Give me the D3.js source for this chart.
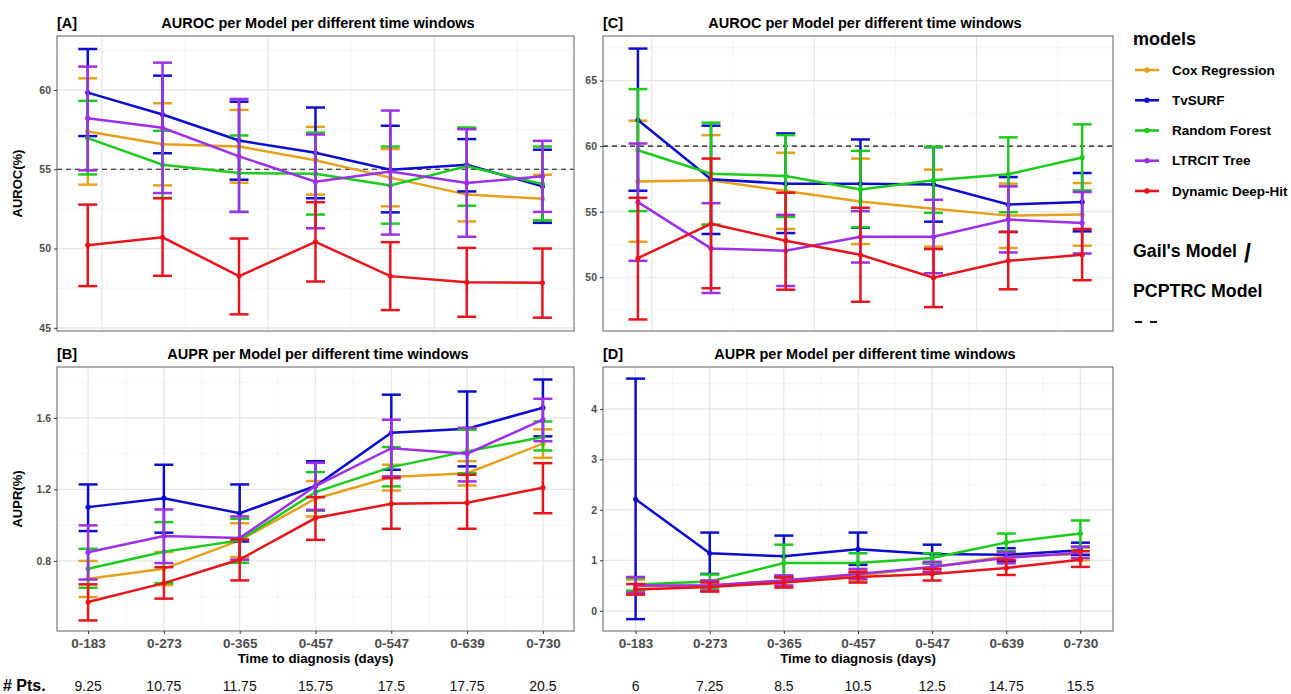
<!DOCTYPE html>
<html>
<head>
<meta charset="utf-8">
<script src="https://cdn.jsdelivr.net/npm/d3@7"></script>
<style>
  body { margin: 0; background: #fff; }
  svg { font-family: "Liberation Sans", Arial, sans-serif; }
</style>
</head>
<body>
<svg id="chart" width="1291" height="694"></svg>
<script>
// ---- data ----
const windows = ["0-183", "0-273", "0-365", "0-457", "0-547", "0-639", "0-730"];
const days = [183, 273, 365, 457, 547, 639, 730];
const models = ["Cox Regression", "TvSURF", "Random Forest", "LTRCIT Tree", "Dynamic Deep-Hit"];
const colors = ["#e5a11b", "#0d0dcf", "#1ccb1c", "#9d2fe8", "#e8141c"];
const ptsLeft = ["9.25", "10.75", "11.75", "15.75", "17.5", "17.75", "20.5"];
const ptsRight = ["6", "7.25", "8.5", "10.5", "12.5", "14.75", "15.5"];

// [A] AUROC, rows follow models
const aurocA = [
  [57.38, 56.58, 56.43, 55.57, 54.47, 53.40, 53.14],
  [59.83, 58.45, 56.81, 56.04, 54.97, 55.28, 53.92],
  [56.96, 55.28, 54.76, 54.72, 53.98, 55.18, 54.07],
  [58.22, 57.61, 55.81, 54.21, 54.86, 54.13, 54.55],
  [50.21, 50.71, 48.26, 50.42, 48.26, 47.88, 47.84]
];
const aurocA_lo = [
  [54.03, 53.98, 54.15, 53.40, 52.66, 51.71, 51.65],
  [57.09, 56.01, 54.34, 53.17, 52.28, 53.60, 51.62],
  [54.67, 53.19, 52.31, 52.14, 51.57, 52.70, 51.78],
  [54.93, 53.50, 52.31, 51.28, 50.88, 50.74, 52.31],
  [47.63, 48.28, 45.85, 47.92, 46.12, 45.70, 45.64]
];
const aurocA_hi = [
  [60.73, 59.16, 58.74, 57.67, 56.27, 57.58, 54.65],
  [62.58, 60.90, 59.26, 58.89, 57.74, 56.90, 56.23],
  [59.31, 57.42, 57.13, 57.31, 56.43, 57.63, 56.43],
  [61.47, 61.72, 59.43, 57.19, 58.70, 57.52, 56.79],
  [52.77, 53.17, 50.63, 52.92, 50.40, 50.04, 50.00]
];

// [C] AUROC
const aurocC = [
  [57.31, 57.39, 56.57, 55.78, 55.22, 54.70, 54.78],
  [61.99, 57.47, 57.14, 57.14, 57.08, 55.55, 55.73],
  [59.69, 57.90, 57.72, 56.70, 57.39, 57.85, 59.13],
  [55.73, 52.20, 52.02, 53.09, 53.09, 54.40, 54.14],
  [51.46, 54.07, 52.79, 51.71, 49.97, 51.25, 51.71]
];
const aurocC_lo = [
  [52.71, 54.00, 53.68, 52.53, 52.33, 52.23, 52.40],
  [56.60, 53.30, 53.37, 53.77, 54.24, 53.46, 53.50],
  [55.04, 54.01, 54.60, 53.81, 54.91, 54.96, 56.62],
  [51.25, 48.80, 49.33, 51.12, 50.31, 51.89, 51.81],
  [46.78, 49.16, 49.05, 48.13, 47.72, 49.08, 49.77]
];
const aurocC_hi = [
  [61.94, 60.84, 59.49, 59.05, 58.21, 57.14, 57.18],
  [67.44, 61.56, 60.97, 60.51, 59.92, 57.64, 57.95],
  [64.35, 61.79, 60.84, 59.64, 59.95, 60.67, 61.66],
  [60.20, 55.65, 54.76, 55.04, 55.91, 56.93, 56.50],
  [56.06, 59.05, 56.45, 55.30, 52.15, 53.45, 53.68]
];

// [B] AUPR
const auprB = [
  [0.700, 0.756, 0.915, 1.148, 1.269, 1.291, 1.456],
  [1.101, 1.151, 1.067, 1.219, 1.517, 1.540, 1.657],
  [0.756, 0.851, 0.915, 1.185, 1.325, 1.413, 1.493],
  [0.849, 0.939, 0.928, 1.219, 1.431, 1.400, 1.590],
  [0.570, 0.676, 0.808, 1.040, 1.120, 1.126, 1.210]
];
const auprB_lo = [
  [0.598, 0.665, 0.821, 1.049, 1.194, 1.222, 1.377],
  [0.967, 0.958, 0.909, 1.083, 1.310, 1.329, 1.497],
  [0.650, 0.676, 0.790, 1.083, 1.217, 1.291, 1.418],
  [0.696, 0.788, 0.807, 1.086, 1.273, 1.245, 1.470],
  [0.467, 0.589, 0.691, 0.918, 0.980, 0.980, 1.067]
];
const auprB_hi = [
  [0.800, 0.850, 1.011, 1.247, 1.338, 1.358, 1.536],
  [1.228, 1.338, 1.228, 1.358, 1.730, 1.748, 1.815],
  [0.868, 1.017, 1.036, 1.297, 1.437, 1.534, 1.580],
  [0.999, 1.088, 1.049, 1.349, 1.590, 1.545, 1.707],
  [0.669, 0.765, 0.920, 1.157, 1.263, 1.282, 1.347]
];

// [D] AUPR
const auprD = [
  [0.48, 0.50, 0.60, 0.70, 0.87, 1.08, 1.12],
  [2.21, 1.14, 1.08, 1.22, 1.125, 1.11, 1.20],
  [0.52, 0.58, 0.946, 0.946, 1.045, 1.355, 1.53],
  [0.50, 0.50, 0.60, 0.73, 0.87, 1.05, 1.15],
  [0.42, 0.47, 0.56, 0.67, 0.73, 0.85, 1.01]
];
const auprD_lo = [
  [0.34, 0.40, 0.50, 0.60, 0.78, 0.98, 1.00],
  [-0.165, 0.73, 0.67, 0.91, 0.94, 0.98, 1.11],
  [0.40, 0.45, 0.58, 0.75, 0.95, 1.18, 1.27],
  [0.36, 0.40, 0.50, 0.63, 0.77, 0.94, 1.05],
  [0.32, 0.38, 0.46, 0.56, 0.60, 0.71, 0.87]
];
const auprD_hi = [
  [0.62, 0.60, 0.70, 0.80, 0.96, 1.18, 1.25],
  [4.60, 1.55, 1.49, 1.55, 1.31, 1.24, 1.35],
  [0.65, 0.72, 1.31, 1.14, 1.14, 1.53, 1.79],
  [0.67, 0.60, 0.70, 0.83, 0.97, 1.16, 1.27],
  [0.53, 0.56, 0.66, 0.77, 0.83, 1.01, 1.18]
];

const svg = d3.select("#chart");
const gridMajor = "#e6e6e6", gridMinor = "#f1f1f1";
const fontFam = '"Liberation Sans", Arial, sans-serif';

// one facet: grid, reference line, error bars, lines, axes, titles
function panel(opt) {
  const { left, right, top, bottom } = opt;
  const g = svg.append("g");
  const y = d3.scaleLinear().domain(opt.yDomain).range([bottom, top]);
  let x, xMajor, xMinor;
  if (opt.continuous) {
    x = d3.scaleLinear().domain(opt.xDomain).range([left, right]);
    xMajor = [200, 400, 600];
    xMinor = [300, 500, 700];
  } else {
    x = d3.scalePoint().domain(d3.range(windows.length)).range([left, right]).padding(opt.pad);
    xMajor = d3.range(windows.length);
    xMinor = d3.range(windows.length - 1).map(i => i + 0.5);
  }
  const xPos = opt.continuous ? (i => x(days[i])) :
    (v => Number.isInteger(v) ? x(v) : (x(Math.floor(v)) + x(Math.ceil(v))) / 2);

  // grid
  g.selectAll(".ymin").data(opt.yMinor).join("line")
    .attr("x1", left).attr("x2", right)
    .attr("y1", d => y(d)).attr("y2", d => y(d))
    .attr("stroke", gridMinor).attr("stroke-width", 0.8);
  g.selectAll(".ymaj").data(opt.yTicks).join("line")
    .attr("x1", left).attr("x2", right)
    .attr("y1", d => y(d)).attr("y2", d => y(d))
    .attr("stroke", gridMajor).attr("stroke-width", 1.2);
  const vx = opt.continuous ? (d => x(d)) : xPos;
  g.selectAll(".xmin").data(xMinor).join("line")
    .attr("y1", top).attr("y2", bottom)
    .attr("x1", vx).attr("x2", vx)
    .attr("stroke", gridMinor).attr("stroke-width", 0.8);
  g.selectAll(".xmaj").data(xMajor).join("line")
    .attr("y1", top).attr("y2", bottom)
    .attr("x1", vx).attr("x2", vx)
    .attr("stroke", gridMajor).attr("stroke-width", 1.2);

  // dashed reference line (Gail's / PCPTRC)
  if (opt.ref != null) {
    g.append("line")
      .attr("x1", left).attr("x2", right)
      .attr("y1", y(opt.ref)).attr("y2", y(opt.ref))
      .attr("stroke", "#111").attr("stroke-width", 1.2)
      .attr("stroke-dasharray", "5,4");
  }

  // series
  const idx = d3.range(windows.length);
  models.forEach((m, k) => {
    const col = colors[k];
    const sg = g.append("g");
    sg.append("path")
      .datum(idx)
      .attr("fill", "none").attr("stroke", col).attr("stroke-width", 2.5)
      .attr("d", d3.line().x(i => xPos(i)).y(i => y(opt.mean[k][i])));
    sg.selectAll(".eb").data(idx).join("line")
      .attr("x1", i => xPos(i)).attr("x2", i => xPos(i))
      .attr("y1", i => y(opt.lo[k][i])).attr("y2", i => y(opt.hi[k][i]))
      .attr("stroke", col).attr("stroke-width", 2.5);
    ["lo", "hi"].forEach(key => {
      sg.selectAll(".cap" + key).data(idx).join("line")
        .attr("x1", i => xPos(i) - 9.5).attr("x2", i => xPos(i) + 9.5)
        .attr("y1", i => y(opt[key][k][i])).attr("y2", i => y(opt[key][k][i]))
        .attr("stroke", col).attr("stroke-width", 2.5);
    });
    sg.selectAll("circle").data(idx).join("circle")
      .attr("cx", i => xPos(i)).attr("cy", i => y(opt.mean[k][i]))
      .attr("r", 2.6).attr("fill", col);
  });

  // border
  g.append("rect")
    .attr("x", left).attr("y", top)
    .attr("width", right - left).attr("height", bottom - top)
    .attr("fill", "none").attr("stroke", "#6e6e6e").attr("stroke-width", 1.1);

  // y axis
  const ya = g.append("g").attr("transform", `translate(${left},0)`)
    .call(d3.axisLeft(y).tickValues(opt.yTicks).tickSize(3).tickPadding(3).tickFormat(opt.fmt));
  ya.select(".domain").remove();
  ya.selectAll("line").attr("stroke", "#333");
  ya.selectAll("text").attr("fill", "#4d4d4d").attr("font-size", "10.5px").attr("font-weight", "bold")
    .style("font-family", fontFam);

  if (!opt.continuous) {
    const xa = g.append("g").attr("transform", `translate(0,${bottom})`)
      .call(d3.axisBottom(x).tickSize(3).tickPadding(4).tickFormat(i => windows[i]));
    xa.select(".domain").remove();
    xa.selectAll("line").attr("stroke", "#333");
    xa.selectAll("text").attr("fill", "#4d4d4d").attr("font-size", "13.5px").attr("font-weight", "bold")
      .style("font-family", fontFam);
    g.append("text").attr("x", (left + right) / 2).attr("y", bottom + 32)
      .attr("text-anchor", "middle").attr("font-size", "13.3px").attr("font-weight", "bold")
      .text("Time to diagnosis (days)");
    g.selectAll(".pts").data(opt.pts).join("text")
      .attr("x", (d, i) => x(i)).attr("y", 691)
      .attr("text-anchor", "middle").attr("font-size", "14px").attr("fill", "#111")
      .text(d => d);
  }

  // titles
  g.append("text").attr("x", left).attr("y", top - 8)
    .attr("font-size", "14.5px").attr("font-weight", "bold").text(opt.tag);
  g.append("text").attr("x", opt.titleX).attr("y", top - 8)
    .attr("text-anchor", "middle").attr("font-size", "14.5px").attr("font-weight", "bold").text(opt.title);
  if (opt.ylab) {
    g.append("text")
      .attr("transform", `translate(22,${(top + bottom) / 2}) rotate(-90)`)
      .attr("text-anchor", "middle").attr("font-size", "13px").attr("font-weight", "bold")
      .text(opt.ylab);
  }
}

panel({
  left: 57, right: 574, top: 36, bottom: 331, continuous: true, xDomain: [146, 768],
  yDomain: [44.8, 63.4], yTicks: [45, 50, 55, 60], yMinor: [47.5, 52.5, 57.5, 62.5],
  mean: aurocA, lo: aurocA_lo, hi: aurocA_hi, ref: 55, fmt: d3.format("d"),
  tag: "[A]", title: "AUROC per Model per different time windows", titleX: 318, ylab: "AUROC(%)"
});
panel({
  left: 57, right: 574, top: 367, bottom: 631, continuous: false, pad: 0.41,
  yDomain: [0.408, 1.885], yTicks: [0.8, 1.2, 1.6], yMinor: [0.6, 1.0, 1.4, 1.8],
  mean: auprB, lo: auprB_lo, hi: auprB_hi, ref: null, fmt: d3.format(".1f"), pts: ptsLeft,
  tag: "[B]", title: "AUPR per Model per different time windows", titleX: 318, ylab: "AUPR(%)"
});
panel({
  left: 603, right: 1113, top: 36, bottom: 331, continuous: true, xDomain: [140, 768],
  yDomain: [45.9, 68.4], yTicks: [50, 55, 60, 65], yMinor: [47.5, 52.5, 57.5, 62.5, 67.5],
  mean: aurocC, lo: aurocC_lo, hi: aurocC_hi, ref: 60, fmt: d3.format("d"),
  tag: "[C]", title: "AUROC per Model per different time windows", titleX: 865
});
panel({
  left: 603, right: 1113, top: 367, bottom: 631, continuous: false, pad: 0.44,
  yDomain: [-0.4, 4.83], yTicks: [0, 1, 2, 3, 4], yMinor: [0.5, 1.5, 2.5, 3.5, 4.5],
  mean: auprD, lo: auprD_lo, hi: auprD_hi, ref: null, fmt: d3.format("d"), pts: ptsRight,
  tag: "[D]", title: "AUPR per Model per different time windows", titleX: 865
});

// "# Pts." label
svg.append("text").attr("x", 3).attr("y", 691)
  .attr("font-size", "16px").attr("font-weight", "bold").text("# Pts.");

// legend
const lg = svg.append("g");
lg.append("text").attr("x", 1133).attr("y", 45)
  .attr("font-size", "18px").attr("font-weight", "bold").text("models");
const ly = d3.scalePoint().domain(models).range([70, 191]);
models.forEach((m, k) => {
  lg.append("line").attr("x1", 1135).attr("x2", 1159)
    .attr("y1", ly(m)).attr("y2", ly(m))
    .attr("stroke", colors[k]).attr("stroke-width", 2.6);
  lg.append("circle").attr("cx", 1147).attr("cy", ly(m)).attr("r", 2.8).attr("fill", colors[k]);
  lg.append("text").attr("x", 1172).attr("y", ly(m) + 4.5)
    .attr("font-size", "13.5px").attr("font-weight", "bold").text(m);
});
lg.append("text").attr("x", 1133).attr("y", 257)
  .attr("font-size", "17.8px").attr("font-weight", "bold").text("Gail's Model");
lg.append("text").attr("x", 1244).attr("y", 262)
  .attr("font-size", "25px").attr("font-weight", "bold").text("/");
lg.append("text").attr("x", 1133).attr("y", 297)
  .attr("font-size", "17.8px").attr("font-weight", "bold").text("PCPTRC Model");
lg.append("line").attr("x1", 1135).attr("x2", 1158).attr("y1", 322).attr("y2", 322)
  .attr("stroke", "#111").attr("stroke-width", 2.2).attr("stroke-dasharray", "7,8");
</script>
</body>
</html>
